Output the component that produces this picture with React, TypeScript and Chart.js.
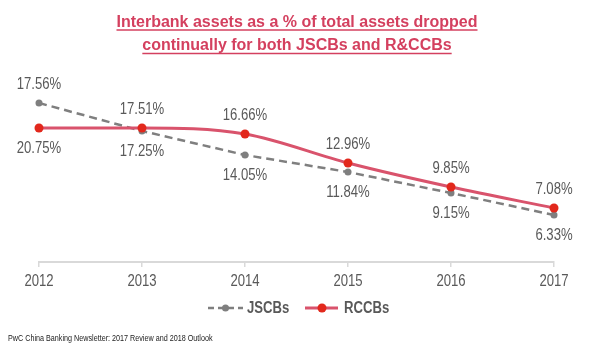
import React, { useEffect, useRef } from 'react';
import { Chart, registerables } from 'chart.js';

Chart.register(...registerables);

// ---- data ----
const years = ['2012', '2013', '2014', '2015', '2016', '2017'];
// values printed on the chart (%)
const jscbValues = [17.56, 17.25, 14.05, 11.84, 9.15, 6.33];
const rccbValues = [20.75, 17.51, 16.66, 12.96, 9.85, 7.08];
// plotted heights as drawn in the picture (chart's own vertical units)
const jscbPlot = [15.9, 13.1, 10.7, 9.0, 6.9, 4.7];
const rccbPlot = [13.4, 13.4, 12.8, 9.9, 7.5, 5.4];
// label side: 1 = above the point, -1 = below
const jscbSide = [1, -1, -1, -1, -1, -1];
const rccbSide = [-1, 1, 1, 1, 1, 1];
const seriesNames = ['JSCBs', 'RCCBs'];
const titleLines = [
  'Interbank assets as a % of total assets dropped',
  'continually for both JSCBs and R&CCBs',
];
const sourceText = 'PwC China Banking Newsletter: 2017 Review and 2018 Outlook';

// ---- styles ----
const SANS = '"Liberation Sans", Arial, sans-serif';
const NARROW_SCALE = 0.82;
const TITLE_COLOR = '#d4405f';
const RCCB_LINE = '#d9536c';
const RCCB_POINT = '#e2281c';
const JSCB_COLOR = '#7f7f7f';
const TEXT_GRAY = '#595959';

function narrowText(
  ctx: CanvasRenderingContext2D,
  text: string,
  x: number,
  y: number,
  sx: number,
) {
  ctx.save();
  ctx.translate(x, y);
  ctx.scale(sx, 1);
  ctx.fillText(text, 0, 0);
  ctx.restore();
}

const overlayPlugin = {
  id: 'overlay',
  afterDraw(chart: any) {
    const ctx: CanvasRenderingContext2D = chart.ctx;
    ctx.save();

    // title with underline
    ctx.font = `bold 16px ${SANS}`;
    ctx.fillStyle = TITLE_COLOR;
    ctx.strokeStyle = TITLE_COLOR;
    ctx.textAlign = 'center';
    ctx.textBaseline = 'alphabetic';
    const titleCx = 297;
    const baselines = [26.5, 50];
    titleLines.forEach((line, i) => {
      ctx.fillText(line, titleCx, baselines[i]);
      const w = ctx.measureText(line).width;
      ctx.lineWidth = 1.5;
      ctx.beginPath();
      ctx.moveTo(titleCx - w / 2, baselines[i] + 3.5);
      ctx.lineTo(titleCx + w / 2, baselines[i] + 3.5);
      ctx.stroke();
    });

    // x tick labels (from the library's x scale)
    const xs = chart.scales.x;
    ctx.font = `16px ${SANS}`;
    ctx.fillStyle = TEXT_GRAY;
    ctx.textAlign = 'center';
    ctx.textBaseline = 'middle';
    years.forEach((y, i) => {
      narrowText(ctx, y, xs.getPixelForTick(i), chart.chartArea.bottom + 20, NARROW_SCALE);
    });

    // data labels
    const labelSet = (dsIndex: number, values: number[], sides: number[]) => {
      const meta = chart.getDatasetMeta(dsIndex);
      meta.data.forEach((pt: any, i: number) => {
        const y = sides[i] > 0 ? pt.y - 18 : pt.y + 20.5;
        narrowText(ctx, values[i].toFixed(2) + '%', pt.x, y, NARROW_SCALE);
      });
    };
    labelSet(0, rccbValues, rccbSide);
    labelSet(1, jscbValues, jscbSide);

    // legend
    const ly = 308;
    ctx.textAlign = 'left';
    ctx.font = `bold 16px ${SANS}`;
    // JSCB
    ctx.strokeStyle = JSCB_COLOR;
    ctx.lineWidth = 2.5;
    ctx.setLineDash([6, 4]);
    ctx.beginPath();
    ctx.moveTo(208, ly);
    ctx.lineTo(243, ly);
    ctx.stroke();
    ctx.setLineDash([]);
    ctx.fillStyle = JSCB_COLOR;
    ctx.beginPath();
    ctx.arc(225.5, ly, 3.5, 0, Math.PI * 2);
    ctx.fill();
    ctx.fillStyle = TEXT_GRAY;
    narrowText(ctx, seriesNames[0], 247, ly + 1, NARROW_SCALE);
    // RCCB
    ctx.strokeStyle = RCCB_LINE;
    ctx.lineWidth = 3;
    ctx.beginPath();
    ctx.moveTo(305, ly);
    ctx.lineTo(338, ly);
    ctx.stroke();
    ctx.fillStyle = RCCB_POINT;
    ctx.beginPath();
    ctx.arc(322, ly, 4.5, 0, Math.PI * 2);
    ctx.fill();
    ctx.fillStyle = TEXT_GRAY;
    narrowText(ctx, seriesNames[1], 344, ly + 1, NARROW_SCALE);

    // source
    ctx.font = `9px ${SANS}`;
    ctx.fillStyle = '#222222';
    ctx.textAlign = 'left';
    narrowText(ctx, sourceText, 8, 339, 0.8);

    ctx.restore();
  },
};

export default function App() {
  const canvasRef = useRef<HTMLCanvasElement | null>(null);

  useEffect(() => {
    if (!canvasRef.current) return;
    const chart = new Chart(canvasRef.current, {
      type: 'line',
      data: {
        labels: years,
        datasets: [
          {
            label: seriesNames[1],
            data: rccbPlot,
            borderColor: RCCB_LINE,
            borderWidth: 3,
            cubicInterpolationMode: 'monotone',
            pointBackgroundColor: RCCB_POINT,
            pointBorderColor: RCCB_POINT,
            pointRadius: 4.5,
            pointBorderWidth: 0,
            fill: false,
            clip: false as any,
          },
          {
            label: seriesNames[0],
            data: jscbPlot,
            borderColor: JSCB_COLOR,
            borderWidth: 2.5,
            borderDash: [8, 5],
            tension: 0,
            pointBackgroundColor: JSCB_COLOR,
            pointBorderColor: JSCB_COLOR,
            pointRadius: 3.5,
            pointBorderWidth: 0,
            fill: false,
            clip: false as any,
          },
        ],
      },
      options: {
        animation: false,
        responsive: false,
        devicePixelRatio: 1,
        layout: { padding: { top: 62, left: 39, right: 46, bottom: 93 } },
        plugins: {
          legend: { display: false },
          title: { display: false },
          tooltip: { enabled: false },
        },
        scales: {
          x: {
            offset: false,
            grid: {
              drawOnChartArea: false,
              drawTicks: true,
              tickLength: 5,
              color: '#d9d9d9',
              lineWidth: 1.5,
            },
            border: { display: true, color: '#d9d9d9', width: 2 },
            ticks: { display: false, autoSkip: false },
          },
          y: { display: false, min: 0, max: 20 },
        },
      },
      plugins: [overlayPlugin],
    });
    return () => chart.destroy();
  }, []);

  return (
    <div style={{ position: 'absolute', left: 0, top: 0, width: 600, height: 360, background: '#ffffff' }}>
      <canvas ref={canvasRef} width={600} height={360} style={{ width: 600, height: 360 }} />
    </div>
  );
}
